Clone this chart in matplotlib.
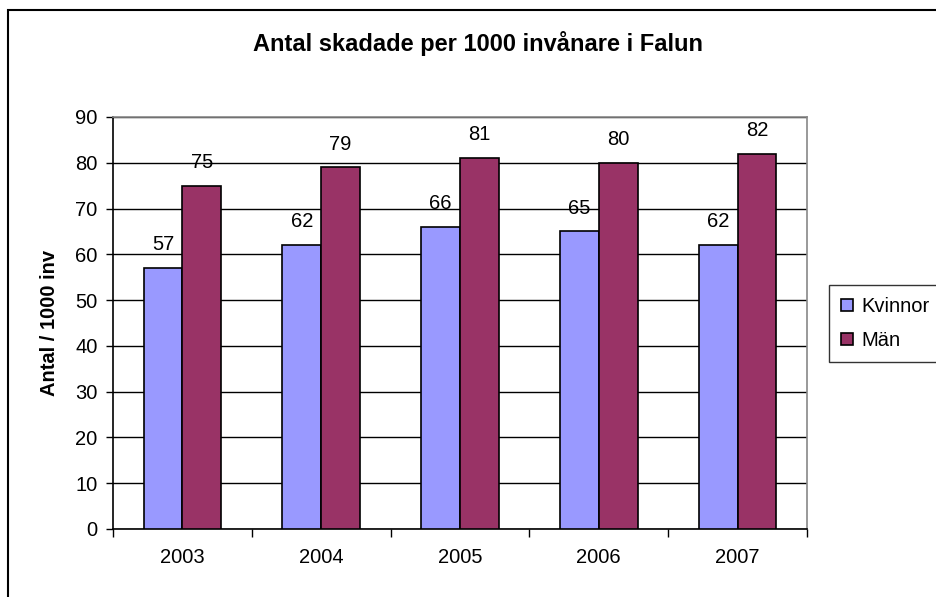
import numpy as np
import matplotlib.pyplot as plt
from matplotlib.patches import Rectangle

years = ['2003', '2004', '2005', '2006', '2007']
kvinnor = [57, 62, 66, 65, 62]
man = [75, 79, 81, 80, 82]
series_names = ['Kvinnor', 'Män']
colors = ['#9999FF', '#993366']

plt.rcParams['font.family'] = ['Liberation Sans', 'DejaVu Sans']

W, H = 937, 597
fig = plt.figure(figsize=(W / 100, H / 100), dpi=100)

# outer chart frame (cut off at right and bottom)
fig.patches.append(Rectangle((8 / W, -0.2), 1.2, 1.2 - 10 / H, transform=fig.transFigure,
                             fill=False, edgecolor='black', linewidth=1.5, zorder=0))

ax = fig.add_axes([113 / W, 68 / H, (807 - 113) / W, (529 - 117) / H])

x = np.arange(len(years))
bw = 0.28
for i, (vals, name, c) in enumerate(zip([kvinnor, man], series_names, colors)):
    pos = x + (i - 0.5) * bw
    ax.bar(pos, vals, bw, color=c, edgecolor='black', linewidth=1.2, label=name, zorder=3)
    for p, v in zip(pos, vals):
        ax.text(p, v + 3.0, str(v), ha='center', va='bottom', fontsize=14.5)

ax.set_xlim(-0.5, len(years) - 0.5)
ax.set_ylim(0, 90)
ax.set_yticks(np.arange(0, 91, 10))
ax.set_xticks(x)
ax.set_xticklabels(years)
ax.set_xticks(np.arange(-0.5, len(years), 1), minor=True)
ax.tick_params(axis='x', which='major', length=0, pad=14, labelsize=14.5)
ax.tick_params(axis='x', which='minor', length=6, width=1, direction='out', color='black')
ax.tick_params(axis='y', length=5, width=1, direction='out', labelsize=14.5, pad=6)
ax.yaxis.grid(True, color='black', linewidth=1, zorder=0)
ax.set_axisbelow(True)

for s in ['top', 'right']:
    ax.spines[s].set_color('#888888')
    ax.spines[s].set_linewidth(1.2)
for s in ['left', 'bottom']:
    ax.spines[s].set_color('black')
    ax.spines[s].set_linewidth(1.2)

ax.set_ylabel('Antal / 1000 inv', fontsize=14.5, fontweight='bold', labelpad=12)
fig.text(478 / W, 1 - 44 / H, 'Antal skadade per 1000 invånare i Falun', ha='center', va='center',
         fontsize=17, fontweight='bold')

leg = fig.legend(loc='upper left', bbox_to_anchor=(829 / W, 1 - 285 / H), frameon=True, fancybox=False,
                 fontsize=14.5, handlelength=0.6, handleheight=0.6, handletextpad=0.4,
                 borderpad=0.6, labelspacing=0.75, borderaxespad=0)
leg.get_frame().set_edgecolor('black')
leg.get_frame().set_linewidth(1)

fig.savefig('out.png', dpi=100)
